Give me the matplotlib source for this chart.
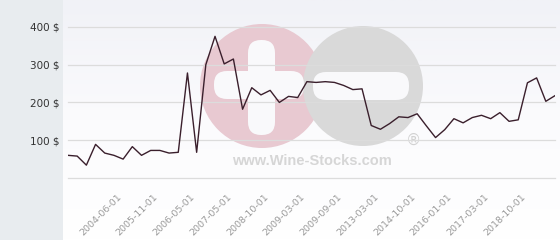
import numpy as np
import matplotlib
matplotlib.use("Agg")
from matplotlib import pyplot as plt
from matplotlib.patches import Circle, FancyBboxPatch
from matplotlib.colors import LinearSegmentedColormap

# price per period (USD)
prices = [
    60, 58, 34, 89, 66, 60, 50, 83, 60, 73,
    73, 66, 68, 278, 68, 300, 375, 302, 315, 182,
    239, 220, 232, 200, 216, 213, 255, 253, 255, 253,
    245, 234, 236, 139, 129, 144, 162, 160, 170, 138,
    107, 128, 157, 146, 160, 166, 157, 173, 150, 154,
    252, 265, 203, 218,
]

date_labels = [
    "2004-06-01", "2005-11-01", "2006-05-01", "2007-05-01",
    "2008-10-01", "2009-03-01", "2009-09-01", "2013-03-01",
    "2014-10-01", "2016-01-01", "2017-03-01", "2018-10-01",
]
label_first = 6
label_step = 4

y_ticks = [100, 200, 300, 400]

W, H = 560, 240


def px(x: float, y: float) -> tuple[float, float]:
    """pixel -> figure fraction"""
    return x / W, 1 - y / H


fig = plt.figure(figsize=(W / 100, H / 100), dpi=100)
fig.patch.set_facecolor("#e8ecef")

# 背景グラデーション
bg = fig.add_axes([63 / W, 0, 1 - 63 / W, 1])
bg.set_axis_off()
cmap = LinearSegmentedColormap.from_list("bg", ["#f1f2f7", "#fbfbfd", "#ffffff"])
bg.imshow(np.linspace(0, 1, 100).reshape(-1, 1), aspect="auto", cmap=cmap,
          extent=(0, 1, 0, 1))
bg.set_xlim(0, 1)
bg.set_ylim(0, 1)

# ウォーターマーク
wm = fig.add_axes([0, 0, 1, 1])
wm.set_axis_off()
wm.set_xlim(0, W)
wm.set_ylim(H, 0)
wm.add_patch(Circle((262, 86), 62, color="#e8c9d1", lw=0))
wm.add_patch(Circle((363, 86), 60, color="#d9d9d9", lw=0))
white = "#f9f9fb"
wm.add_patch(FancyBboxPatch((214, 71), 90, 28, boxstyle="round,pad=0,rounding_size=13",
                            color=white, lw=0))
wm.add_patch(FancyBboxPatch((248, 40), 27, 95, boxstyle="round,pad=0,rounding_size=13",
                            color=white, lw=0))
wm.add_patch(FancyBboxPatch((313, 72), 96, 28, boxstyle="round,pad=0,rounding_size=13",
                            color=white, lw=0))
wm.text(312, 161, "www.Wine-Stocks.com", ha="center", va="center", fontsize=10.5,
        fontweight="bold", color="#d6d6d6", family="Liberation Sans")
wm.text(413, 140, "®", ha="center", va="center", fontsize=11, color="#d2d2d2")

# メインプロット
x0, y0 = px(68, 178)
x1, y1 = px(555, 8)
ax = fig.add_axes([x0, y0, x1 - x0, y1 - y0])
ax.patch.set_alpha(0)
for s in ax.spines.values():
    s.set_visible(False)

idx = np.arange(len(prices))
ax.plot(idx, prices, color="#3a1f2c", lw=1.0, zorder=3)

ax.set_xlim(0, len(prices) - 1)
ax.set_ylim(0, 450)

ax.set_yticks([0] + y_ticks)
ax.set_yticklabels([""] + [f"{v} $" for v in y_ticks])
ax.grid(axis="y", color="#dcdcdc", lw=0.9, zorder=1)
for gl in ax.get_ygridlines():
    gl.set_clip_on(False)
ax.tick_params(axis="y", length=0, pad=6, labelsize=7.5, labelcolor="#333333")

xt = [label_first + label_step * i for i in range(len(date_labels))]
ax.set_xticks(xt)
ax.set_xticklabels(date_labels, rotation=45, ha="right", va="top")
ax.tick_params(axis="x", length=0, pad=10, labelsize=6.8, labelcolor="#9a9a9a")

fig.savefig("out.png", dpi=100, facecolor=fig.get_facecolor())
